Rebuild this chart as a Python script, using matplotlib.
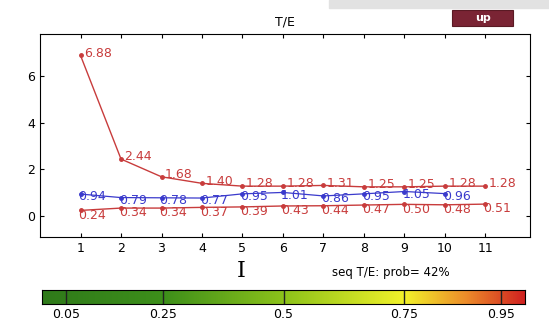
import matplotlib.pyplot as plt
import matplotlib.patches as mpatches
import numpy as np
from matplotlib.colors import LinearSegmentedColormap

x = np.arange(1, 12)
te_ratio = [6.88, 2.44, 1.68, 1.40, 1.28, 1.28, 1.31, 1.25, 1.25, 1.28, 1.28]
blue_vals = [0.94, 0.79, 0.78, 0.77, 0.95, 1.01, 0.86, 0.95, 1.05, 0.96]
low_vals = [0.24, 0.34, 0.34, 0.37, 0.39, 0.43, 0.44, 0.47, 0.50, 0.48, 0.51]
cbar_ticks = [0.05, 0.25, 0.5, 0.75, 0.95]

red = '#c83c3c'
blue = '#3a3acc'

fig = plt.figure(figsize=(5.49, 3.28), dpi=100)

# grey band at top right
fig.patches.append(mpatches.Rectangle((0.60, 0.975), 0.40, 0.025, transform=fig.transFigure,
                                      color='#e2e2e2', zorder=0))

ax = fig.add_axes([0.0729, 0.2774, 0.8925, 0.619])
ax.plot(x, te_ratio, color=red, lw=1, marker='o', ms=2.5)
ax.plot(x[:len(blue_vals)], blue_vals, color=blue, lw=0.9, marker='o', ms=2.5)
ax.plot(x, low_vals, color=red, lw=1, marker='o', ms=2.5)

for xi, v in zip(x, te_ratio):
    ax.text(xi + 0.08, v + 0.1, f'{v:.2f}', color=red, fontsize=9, va='center', ha='left')
for xi, v in zip(x, blue_vals):
    ax.text(xi - 0.05, v - 0.12, f'{v:.2f}', color=blue, fontsize=9, va='center', ha='left')
for xi, v in zip(x, low_vals):
    ax.text(xi - 0.05, v - 0.2, f'{v:.2f}', color=red, fontsize=9, va='center', ha='left')

ax.set_xlim(0, 12.1)
ax.set_ylim(-0.9, 7.8)
ax.set_xticks(x)
ax.set_yticks([0, 2, 4, 6])
ax.tick_params(direction='in', top=True, right=True, labelsize=9, length=3)
ax.set_title('T/E', fontsize=9, pad=6)

# "up" button
fig.patches.append(mpatches.Rectangle((0.824, 0.921), 0.111, 0.048, transform=fig.transFigure,
                                      fc='#7a2434', ec='#5a1a24', lw=0.8))
fig.text(0.879, 0.945, 'up', color='white', fontsize=8, fontweight='bold', ha='center', va='center')

fig.text(0.44, 0.175, 'I', family='DejaVu Serif', fontsize=16, ha='center', va='center')
fig.text(0.605, 0.17, 'seq T/E: prob= 42%', fontsize=8.5, ha='left', va='center')

# probability colorbar
cax = fig.add_axes([0.0765, 0.073, 0.88, 0.043])
cmap = LinearSegmentedColormap.from_list('prob', [(0, '#2f7a1a'), (0.25, '#3d8f1a'),
                                                   (0.5, '#8cc21a'), (0.75, '#f2f22a'),
                                                   (0.88, '#ec8a2a'), (1.0, '#d02020')])
grad = np.linspace(0, 1, 256).reshape(1, -1)
cax.imshow(grad, aspect='auto', cmap=cmap, extent=(0, 1, 0, 1))
for t in cbar_ticks:
    cax.axvline(t, color='#222222', lw=1)
cax.set_xlim(0, 1)
cax.set_yticks([])
cax.set_xticks(cbar_ticks)
cax.set_xticklabels([str(t) for t in cbar_ticks])
cax.tick_params(length=0, labelsize=9, pad=3)

fig.savefig('out.png', dpi=100)
